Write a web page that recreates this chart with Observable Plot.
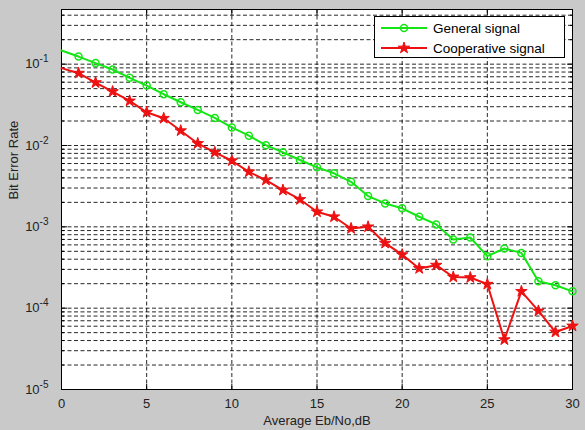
<!DOCTYPE html>
<html><head><meta charset="utf-8">
<script src="https://cdn.jsdelivr.net/npm/d3@7"></script>
<script src="https://cdn.jsdelivr.net/npm/@observablehq/plot@0.6"></script>
<style>
body{margin:0;background:#c9c9c9;}
#wrap{position:relative;width:585px;height:430px;font-family:"Liberation Sans",Arial,sans-serif;}
#legend{position:absolute;left:374px;top:16px;width:189px;height:40px;background:#fff;border:1px solid #000;}
.row{position:absolute;left:0;height:20px;display:flex;align-items:center;font-size:13.5px;color:#000;}
.row svg{margin-left:6px;margin-right:6px;}
</style></head>
<body>
<div id="wrap"><div id="legend"></div></div>
<script>
const snr = [0,1,2,3,4,5,6,7,8,9,10,11,12,13,14,15,16,17,18,19,20,21,22,23,24,25,26,27,28,29,30];
const generalBER = [0.147,0.124,0.103,0.086,0.068,0.0545,0.0427,0.034,0.0274,0.0218,0.0167,0.0132,0.0101,0.00824,0.00663,0.00539,0.00455,0.00358,0.00239,0.00194,0.00169,0.00133,0.00107,0.00070,0.00074,0.000436,0.000542,0.000478,0.000214,0.000191,0.000161];
const coopBER = [0.0893,0.0775,0.0593,0.046,0.0353,0.0256,0.0216,0.0152,0.0106,0.00824,0.0065,0.00475,0.00376,0.00283,0.00217,0.00153,0.00133,0.000955,0.001,0.00063,0.000455,0.000308,0.000338,0.000242,0.000238,0.000197,0.000041,0.000161,0.0000924,0.0000509,0.0000604];
const seriesNames = ["General signal","Cooperative signal"];
const seriesColors = ["#14e614","#ee1111"];
const xTicks = [0,5,10,15,20,25,30];
const yMajor = [1e-5,1e-4,1e-3,1e-2,1e-1];
const yMinorMultipliers = [2,3,4,5,6,7,8,9];
const yTop = 0.47;

const yMinor = [];
for (const m of yMajor) for (const k of yMinorMultipliers) { const v = m*k; if (v < yTop) yMinor.push(v); }

const gen = snr.map((x,i)=>({x, y: generalBER[i]}));
const coop = snr.map((x,i)=>({x, y: coopBER[i]}));
const grid = {stroke:"#000", strokeOpacity:0.85, strokeDasharray:"4,2.5", strokeWidth:1};
const tk = {text:null, label:null, stroke:"#000"};

const chart = Plot.plot({
  width:585, height:430,
  marginLeft:61, marginRight:13, marginTop:9, marginBottom:41,
  style:{background:"transparent", fontFamily:"'Liberation Sans', Arial, sans-serif", fontSize:"13px", color:"#222"},
  x:{domain:[0,30], label:null},
  y:{type:"log", domain:[1e-5, yTop], label:null},
  marks:[
    Plot.frame({fill:"#fff", stroke:null}),
    Plot.gridX(xTicks.slice(1,-1), grid),
    Plot.gridY([...yMajor.slice(1), ...yMinor], grid),
    Plot.axisX(xTicks, {anchor:"bottom", tickSize:0, tickPadding:9, label:null, fontSize:13}),
    Plot.axisX(xTicks, {anchor:"bottom", tickSize:-5, ...tk}),
    Plot.axisX(xTicks, {anchor:"top", tickSize:-5, ...tk}),
    Plot.axisY(yMajor, {anchor:"left", tickSize:0, tickPadding:13, label:null, tickFormat: d => "10^" + Math.round(Math.log10(d)), fontSize:13}),
    Plot.axisY(yMajor, {anchor:"left", tickSize:-6, ...tk}),
    Plot.axisY(yMinor, {anchor:"left", tickSize:-3, ...tk}),
    Plot.axisY(yMajor, {anchor:"right", tickSize:-6, ...tk}),
    Plot.axisY(yMinor, {anchor:"right", tickSize:-3, ...tk}),
    Plot.frame({stroke:"#000", strokeWidth:1}),
    Plot.line(gen, {x:"x", y:"y", stroke:seriesColors[0], strokeWidth:2}),
    Plot.dot(gen.slice(1), {x:"x", y:"y", stroke:seriesColors[0], strokeWidth:1.5, r:3.5, symbol:"circle"}),
    Plot.line(coop, {x:"x", y:"y", stroke:seriesColors[1], strokeWidth:2}),
    Plot.dot(coop.slice(1), {x:"x", y:"y", fill:seriesColors[1], stroke:seriesColors[1], strokeWidth:1, r:3.6, symbol:"star"}),
    Plot.text(["Average Eb/No,dB"], {frameAnchor:"bottom", dy:35, fontSize:13, fill:"#222"}),
    Plot.text(["Bit Error Rate"], {frameAnchor:"left", dx:-48, rotate:-90, fontSize:13, fill:"#222"})
  ]
});
document.getElementById("wrap").prepend(chart);

// superscript exponents on y tick labels
d3.select(chart).selectAll('g[aria-label="y-axis tick label"] text').each(function(){
  const t = this.textContent;
  if (!t.startsWith("10^")) return;
  const e = t.slice(3);
  const sel = d3.select(this);
  sel.text("");
  sel.append("tspan").text("10");
  sel.append("tspan").attr("dy","-6").attr("font-size","10").text(e);
});

// legend
const leg = document.getElementById("legend");
const star = d3.symbol(d3.symbolStar, 40)();
seriesNames.forEach((name,i)=>{
  const row = document.createElement("div");
  row.className = "row";
  row.style.top = (i*20+1) + "px";
  const marker = i===0
    ? `<circle cx="23" cy="10" r="3.5" fill="none" stroke="${seriesColors[0]}" stroke-width="1.5"/>`
    : `<path d="${star}" transform="translate(23,10)" fill="${seriesColors[1]}" stroke="${seriesColors[1]}"/>`;
  row.innerHTML = `<svg width="46" height="20"><line x1="0" x2="46" y1="10" y2="10" stroke="${seriesColors[i]}" stroke-width="2"/>${marker}</svg><span>${name}</span>`;
  leg.appendChild(row);
});
</script>
</body></html>
